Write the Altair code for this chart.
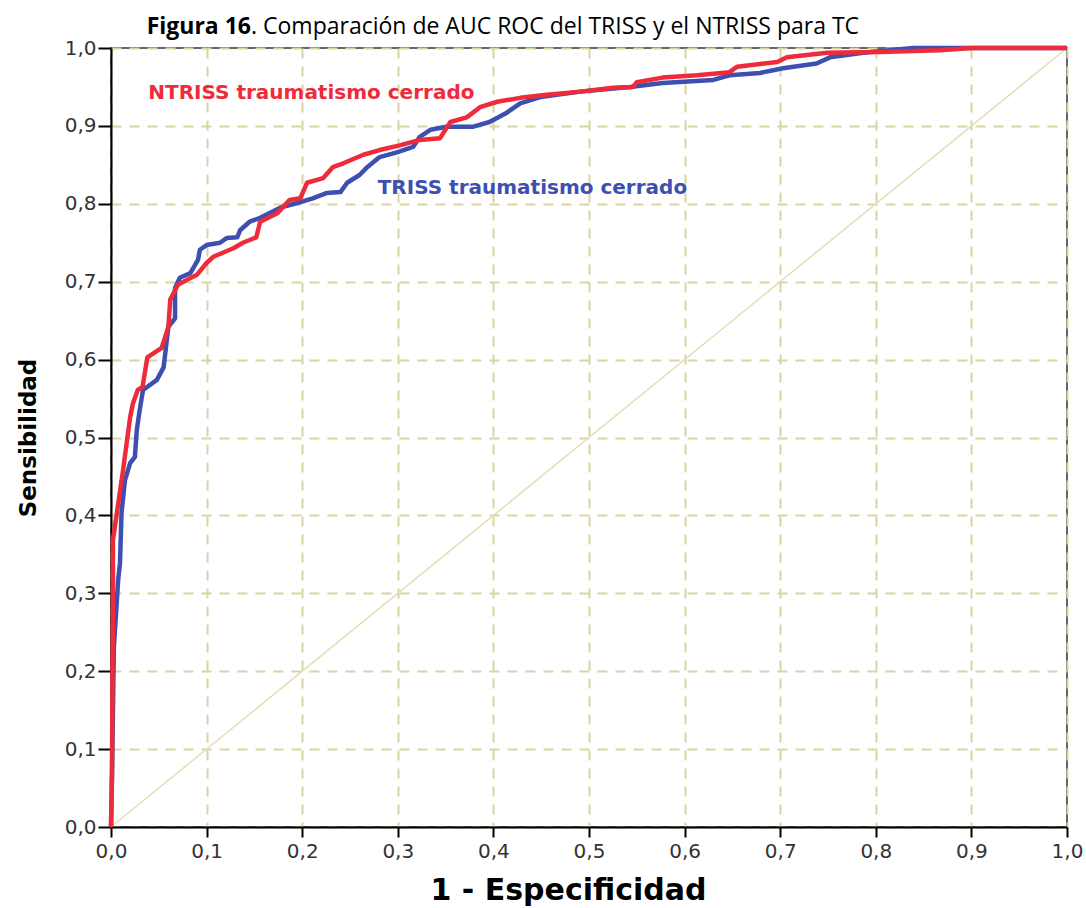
import altair as alt
import pandas as pd

# ROC curve points (1 - specificity, sensitivity)
ntriss_fpr = [0.0, 0.001, 0.002, 0.002, 0.0126, 0.020, 0.023, 0.028, 0.033, 0.038, 0.053, 0.060,
              0.062, 0.070, 0.079, 0.090, 0.100, 0.107, 0.128, 0.138, 0.152, 0.156, 0.174, 0.187,
              0.198, 0.205, 0.222, 0.232, 0.243, 0.264, 0.281, 0.302, 0.323, 0.344, 0.355, 0.372,
              0.386, 0.404, 0.428, 0.456, 0.491, 0.525, 0.546, 0.550, 0.577, 0.613, 0.647, 0.655,
              0.697, 0.707, 0.749, 0.804, 0.867, 0.900, 1.0]
ntriss_tpr = [0.0, 0.070, 0.290, 0.368, 0.458, 0.526, 0.544, 0.561, 0.565, 0.603, 0.615, 0.642,
              0.677, 0.696, 0.702, 0.709, 0.724, 0.732, 0.743, 0.750, 0.757, 0.777, 0.788, 0.805,
              0.807, 0.827, 0.833, 0.847, 0.852, 0.863, 0.869, 0.875, 0.882, 0.884, 0.905, 0.911,
              0.924, 0.931, 0.936, 0.940, 0.944, 0.949, 0.950, 0.956, 0.962, 0.965, 0.969, 0.976,
              0.982, 0.988, 0.994, 0.995, 0.997, 1.0, 1.0]

triss_fpr = [0.0, 0.001, 0.003, 0.0075, 0.0094, 0.011, 0.0146, 0.020, 0.025, 0.027, 0.030, 0.0335,
             0.048, 0.055, 0.0575, 0.060, 0.067, 0.067, 0.072, 0.083, 0.091, 0.093, 0.100, 0.114,
             0.121, 0.132, 0.135, 0.145, 0.156, 0.177, 0.195, 0.211, 0.226, 0.240, 0.247, 0.260,
             0.268, 0.281, 0.299, 0.316, 0.323, 0.334, 0.351, 0.379, 0.396, 0.414, 0.428, 0.449,
             0.491, 0.543, 0.577, 0.630, 0.647, 0.679, 0.703, 0.738, 0.752, 0.787, 0.839, 1.0]
triss_tpr = [0.0, 0.060, 0.231, 0.317, 0.339, 0.403, 0.445, 0.467, 0.475, 0.510, 0.535, 0.561,
             0.574, 0.590, 0.616, 0.642, 0.653, 0.692, 0.705, 0.711, 0.728, 0.741, 0.747, 0.750,
             0.756, 0.757, 0.766, 0.777, 0.782, 0.795, 0.801, 0.807, 0.814, 0.815, 0.827, 0.837,
             0.847, 0.860, 0.866, 0.873, 0.886, 0.895, 0.899, 0.899, 0.905, 0.917, 0.929, 0.937,
             0.944, 0.950, 0.955, 0.959, 0.965, 0.968, 0.974, 0.980, 0.988, 0.994, 1.0, 1.0]

series_names = ["TRISS traumatismo cerrado", "NTRISS traumatismo cerrado"]
series_colors = ["#3d50b2", "#ee2b3b"]

# in-plot label anchors (left edge, vertical centre) in data units
label_fpr = [0.279, 0.039]
label_tpr = [0.820, 0.942]

tick_values = [round(i / 10, 1) for i in range(11)]

rows = []
for name, fpr, tpr in [(series_names[0], triss_fpr, triss_tpr),
                       (series_names[1], ntriss_fpr, ntriss_tpr)]:
    for i, (a, b) in enumerate(zip(fpr, tpr)):
        rows.append({"serie": name, "fpr": a, "tpr": b, "orden": i})
curves = pd.DataFrame(rows)

labels = pd.DataFrame({"serie": series_names, "fpr": label_fpr, "tpr": label_tpr})
reference = pd.DataFrame({"fpr": [0.0, 1.0], "tpr": [0.0, 1.0]})

comma_fmt = "replace(format(datum.value, '.1f'), '.', ',')"

x_enc = alt.X(
    "fpr:Q",
    scale=alt.Scale(domain=[0, 1], nice=False),
    axis=alt.Axis(
        values=tick_values, labelExpr=comma_fmt, title="1 - Especificidad",
        tickSize=10, labelPadding=4, titleFontSize=30, titleY=63, titleX=457,
        titleAlign="center", titleBaseline="middle", labelFlush=False,
    ),
)
y_enc = alt.Y(
    "tpr:Q",
    scale=alt.Scale(domain=[0, 1], nice=False),
    axis=alt.Axis(
        values=tick_values, labelExpr=comma_fmt, title="Sensibilidad",
        tickSize=13, labelPadding=2, titleFontSize=23, titleX=-83,
        titleBaseline="middle", titleAngle=-90, labelFlush=False,
    ),
)

color_scale = alt.Scale(domain=series_names, range=series_colors)

diagonal = alt.Chart(reference).mark_line(color="#e3ddb4", strokeWidth=1.5).encode(
    x=x_enc, y=y_enc
)

lines = alt.Chart(curves).mark_line(strokeWidth=4.5, strokeJoin="round").encode(
    x=x_enc,
    y=y_enc,
    color=alt.Color("serie:N", scale=color_scale, legend=None),
    order="orden:Q",
)

curve_labels = alt.Chart(labels).mark_text(
    align="left", baseline="middle", font="DejaVu Sans", fontWeight="bold", fontSize=20
).encode(
    x="fpr:Q",
    y="tpr:Q",
    text="serie:N",
    color=alt.Color("serie:N", scale=color_scale, legend=None),
)

one_row = pd.DataFrame({"t": [0]})
title_bold = alt.Chart(one_row).mark_text(
    align="right", baseline="middle", font="Open Sans", fontWeight="bold", fontSize=23,
    color="black",
).encode(x=alt.value(140), y=alt.value(-21), text=alt.value("Figura 16"))
title_rest = alt.Chart(one_row).mark_text(
    align="left", baseline="middle", font="Open Sans", fontSize=23, color="black",
).encode(
    x=alt.value(140), y=alt.value(-21),
    text=alt.value(". Comparación de AUC ROC del TRISS y el NTRISS para TC"),
)

chart = (
    alt.layer(diagonal, lines, curve_labels, title_bold, title_rest)
    .properties(
        width=956, height=779,
        autosize=alt.AutoSizeParams(type="none"),
        padding={"left": 111, "top": 48, "right": 19, "bottom": 81},
        background="white",
    )
    .configure_view(stroke="#666666", strokeWidth=2)
    .configure_axis(
        domainColor="black", domainWidth=2, tickColor="black", tickWidth=2,
        gridColor="#d9d4a2", gridDash=[10, 8], gridWidth=2,
        labelFont="DejaVu Sans", labelFontSize=20, labelColor="#333333",
        titleFont="DejaVu Sans", titleFontWeight="bold", titleColor="black",
    )
)

chart.save("out.html", embed_options={"renderer": "svg", "actions": False})
